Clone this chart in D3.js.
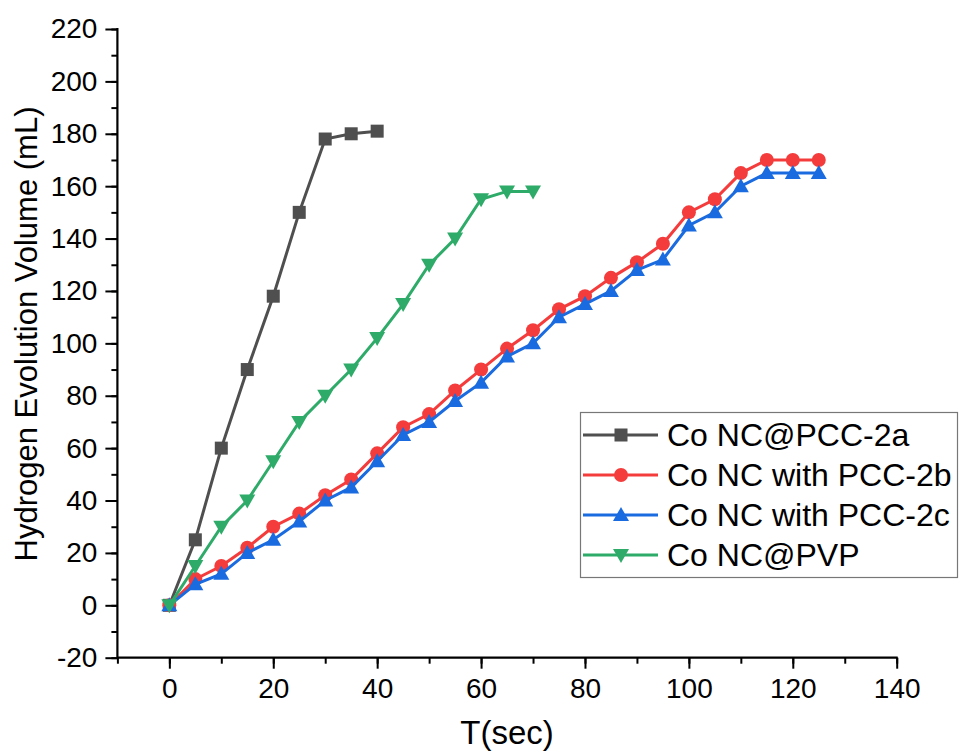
<!DOCTYPE html>
<html><head><meta charset="utf-8">
<script src="https://cdn.jsdelivr.net/npm/d3@7"></script>
<style>body{margin:0;background:#fff}svg{display:block}text{font-family:"Liberation Sans",Arial,sans-serif}</style>
</head><body><svg id="c" width="959" height="752"></svg>
<script>
const xA = [0,5,10,15,20,25,30,35,40];
const yA = [0,25,60,90,118,150,178,180,181];
const xB = [0,5,10,15,20,25,30,35,40,45,50,55,60,65,70,75,80,85,90,95,100,105,110,115,120,125];
const yB = [0,10,15,22,30,35,42,48,58,68,73,82,90,98,105,113,118,125,131,138,150,155,165,170,170,170];
const xC = xB;
const yC = [0,8,12,20,25,32,40,45,55,65,70,78,85,95,100,110,115,120,128,132,145,150,160,165,165,165];
const xD = [0,5,10,15,20,25,30,35,40,45,50,55,60,65,70];
const yD = [0,15,30,40,55,70,80,90,102,115,130,140,155,158,158];
const seriesNames = ["Co NC@PCC-2a","Co NC with PCC-2b","Co NC with PCC-2c","Co NC@PVP"];
const xTicks = [0,20,40,60,80,100,120,140];
const yTicks = [-20,0,20,40,60,80,100,120,140,160,180,200,220];

const colors = ["#4f4f4f","#f43c3c","#1a6be0","#2eab68"];
const shapes = ["square","circle","up","down"];
const series = [[xA,yA],[xB,yB],[xC,yC],[xD,yD]];

const svg = d3.select("#c");
const L=117.4, R=896.7, T=29, B=657.7;
const x = d3.scaleLinear().domain([-10,140]).range([L,R]);
const y = d3.scaleLinear().domain([-20,220]).range([B,T]);
const fmt = d => String(d).replace("\u2212","-");

// axes
const gx = svg.append("g").attr("transform",`translate(0,${B})`);
gx.call(d3.axisBottom(x).tickValues(d3.range(-10,141,10)).tickSize(6).tickFormat(""));
gx.call(g=>{g.select(".domain").remove();});
gx.selectAll(".tick line").attr("stroke","#000").attr("stroke-width",2);
const gx2 = svg.append("g").attr("transform",`translate(0,${B})`);
gx2.call(d3.axisBottom(x).tickValues(xTicks).tickSize(11).tickPadding(9).tickFormat(fmt));
gx2.select(".domain").remove();
gx2.selectAll(".tick line").attr("stroke","#000").attr("stroke-width",2);
gx2.selectAll("text").attr("font-size",28).attr("fill","#000");

const gy = svg.append("g").attr("transform",`translate(${L},0)`);
gy.call(d3.axisLeft(y).tickValues(d3.range(-20,221,10)).tickSize(6).tickFormat(""));
gy.select(".domain").remove();
gy.selectAll(".tick line").attr("stroke","#000").attr("stroke-width",2);
const gy2 = svg.append("g").attr("transform",`translate(${L},0)`);
gy2.call(d3.axisLeft(y).tickValues(yTicks).tickSize(12).tickPadding(8).tickFormat(fmt));
gy2.select(".domain").remove();
gy2.selectAll(".tick line").attr("stroke","#000").attr("stroke-width",2);
gy2.selectAll("text").attr("font-size",28).attr("fill","#000");

svg.append("line").attr("x1",L).attr("x2",R+1).attr("y1",B).attr("y2",B).attr("stroke","#000").attr("stroke-width",2.2);
svg.append("line").attr("x1",L).attr("x2",L).attr("y1",T-1).attr("y2",B+1).attr("stroke","#000").attr("stroke-width",2.2);

// titles
svg.append("text").attr("x",507).attr("y",744).attr("text-anchor","middle").attr("font-size",33).text("T(sec)");
svg.append("text").attr("transform",`translate(37,334) rotate(-90)`).attr("text-anchor","middle").attr("font-size",31).text("Hydrogen Evolution Volume (mL)");

function marker(g, shape, cx, cy, color){
  if(shape==="square") g.append("rect").attr("x",cx-6.5).attr("y",cy-6.5).attr("width",13).attr("height",13).attr("fill",color);
  else if(shape==="circle") g.append("circle").attr("cx",cx).attr("cy",cy).attr("r",7).attr("fill",color);
  else if(shape==="up") g.append("path").attr("d",`M${cx},${cy-8} L${cx+8},${cy+6} L${cx-8},${cy+6}Z`).attr("fill",color);
  else g.append("path").attr("d",`M${cx},${cy+8} L${cx+8},${cy-6} L${cx-8},${cy-6}Z`).attr("fill",color);
}

const line = d3.line().x(d=>x(d[0])).y(d=>y(d[1]));
series.forEach((s,i)=>{
  const pts = s[0].map((v,j)=>[v,s[1][j]]);
  const g = svg.append("g");
  g.append("path").attr("d",line(pts)).attr("fill","none").attr("stroke",colors[i]).attr("stroke-width",3);
  pts.forEach(p=>marker(g,shapes[i],x(p[0]),y(p[1]),colors[i]));
});

// legend
const lg = svg.append("g");
lg.append("rect").attr("x",580.5).attr("y",412.5).attr("width",377).attr("height",165).attr("fill","#fff").attr("stroke","#777").attr("stroke-width",1.2);
seriesNames.forEach((n,i)=>{
  const yy = 435 + i*40;
  lg.append("line").attr("x1",583).attr("x2",658).attr("y1",yy).attr("y2",yy).attr("stroke",colors[i]).attr("stroke-width",3);
  marker(lg,shapes[i],621,yy,colors[i]);
  lg.append("text").attr("x",667).attr("y",yy+11).attr("font-size",32).attr("fill","#000").text(n);
});
</script></body></html>
